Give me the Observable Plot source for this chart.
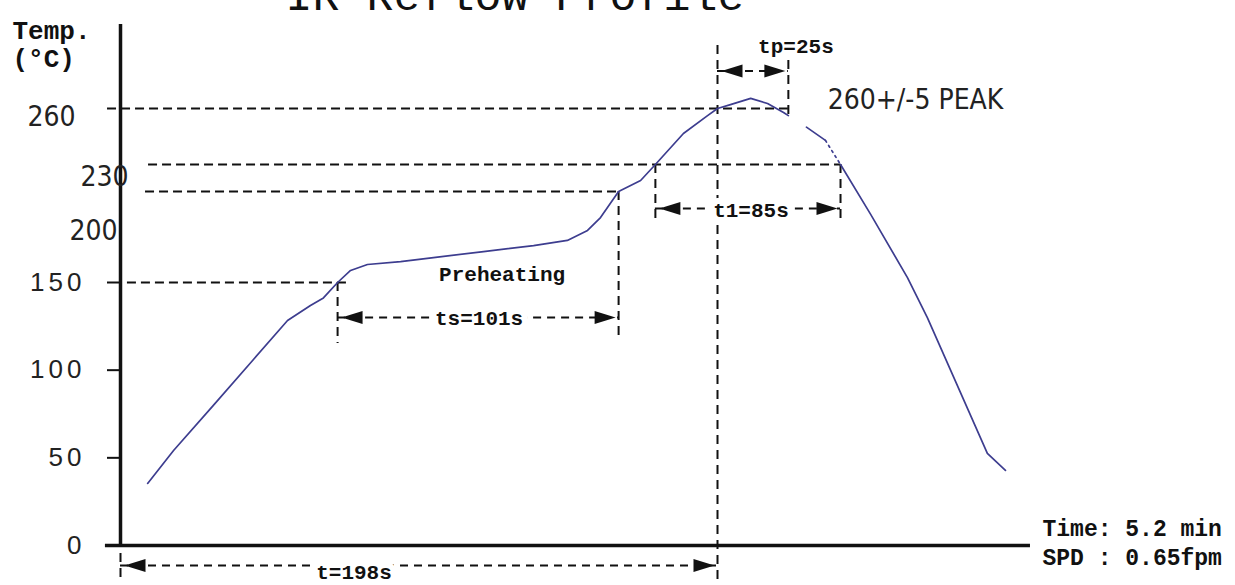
<!DOCTYPE html>
<html><head><meta charset="utf-8">
<script src="https://cdn.jsdelivr.net/npm/d3@7"></script>
<script src="https://cdn.jsdelivr.net/npm/@observablehq/plot@0.6"></script>
<style>
html,body{margin:0;padding:0;background:#fff;overflow:hidden}
g[aria-label="y-axis tick label"] text{letter-spacing:4px}
</style></head><body><div id="chart"></div>
<script>
// Reflow profile curve (time in s, temperature in °C)
const curveTime = [9.0, 17.6, 30.8, 44.1, 55.4, 63.0, 67.3, 72.0, 76.3, 81.9, 92.9, 103.8, 120.4, 137.0, 148.2, 154.9, 159.2, 165.2, 172.5, 177.4, 186.7, 194.7, 198.0, 202.3, 209.0, 214.6, 219.9, 221.5,
                   227.5, 233.8,
                   233.8, 238.8,
                   238.8, 248.8, 261.0, 267.6, 287.5, 293.5];
const curveTemp = [35.4, 54.2, 79.9, 106.1, 128.3, 136.9, 141.2, 150.0, 156.6, 159.9, 161.5, 163.7, 167.0, 170.3, 173.1, 178.6, 185.7, 200.0, 212.2, 230.0, 246.6, 256.2, 260.0, 262.1, 265.4, 262.7, 257.9, 256.2,
                   250.0, 242.9,
                   242.9, 230.0,
                   230.0, 187.4, 152.7, 130.0, 52.5, 42.8];
const curvePart = ["a","a","a","a","a","a","a","a","a","a","a","a","a","a","a","a","a","a","a","a","a","a","a","a","a","a","a","a",
                   "b","b",
                   "c","c",
                   "d","d","d","d","d","d"];

// y axis
const yTicks = [0, 50, 100, 150];
const yKnots = [0, 150, 200, 230, 260];
const yAxisSpan = [0, 305];
const xAxisSpan = [-5, 301.8];

// horizontal reference levels
const refTemp = [260, 230, 200, 150];
const refFrom = [-4.3, 9.3, 8.3, 2.3];
const refTo = [221.5, 238.8, 165.2, 75.3];

// vertical markers
const markTime = [0, 72.0, 165.2, 177.4, 198.0, 221.5, 238.8];
const markFrom = [-4.6, 150, 200, 230, 293.7, 285.7, 230];
const markTo = [-20, 115.2, 116.9, 184, -22.8, 256.2, 184];

// time spans
const spanName = ["t=198s", "ts=101s", "t1=85s", "tp=25s"];
const spanStart = [0, 72.0, 177.4, 198.0];
const spanEnd = [198.0, 165.2, 238.8, 221.5];
const spanLevel = [-11.4, 130, 190.7, 280.1];

const curve = curveTime.map((t, i) => ({t, T: curveTemp[i], part: curvePart[i]}));
const refs = refTemp.map((T, i) => ({T, x1: refFrom[i], x2: refTo[i]}));
const marks = markTime.map((t, i) => ({t, y1: markFrom[i], y2: markTo[i]}));
const spans = spanName.map((name, i) => ({name, start: spanStart[i], end: spanEnd[i], level: spanLevel[i], mid: (spanStart[i] + spanEnd[i]) / 2}));
const peakIdx = d3.maxIndex(curveTemp);

const arrowHead = {draw(ctx) { ctx.moveTo(0, 0); ctx.lineTo(-21, -6.5); ctx.lineTo(-21, 6.5); ctx.closePath(); }};

const MONO = '"Liberation Mono", "Courier New", monospace';
const NARROW = '"Liberation Sans Narrow", "DejaVu Sans Condensed", sans-serif';
const SANS = '"Liberation Sans", Arial, sans-serif';
const INK = "#111";

const spanLabel = (i, dx, dy, halo) => Plot.text([spans[i]], {
  x: "mid", y: "level", text: "name", dx, dy, fontFamily: MONO, fontWeight: "bold", fontSize: 21,
  fill: INK, stroke: halo ? "white" : null, strokeWidth: halo ? 12 : null
});

const plot = Plot.plot({
  width: 1235, height: 585,
  marginLeft: 120, marginRight: 0, marginTop: 0, marginBottom: 0,
  style: {background: "white", fontFamily: SANS, color: INK},
  x: {domain: [0, 198], range: [120, 717], axis: null},
  y: {type: "linear", domain: yKnots, range: [545, 282, 191, 164, 108]},
  marks: [
    // title (partly cut at top)
    Plot.text(["IR Reflow Profile"], {frameAnchor: "top-left", dx: 165, dy: 9, textAnchor: "start", lineAnchor: "bottom", fontFamily: MONO, fontSize: 45, fill: INK}),
    Plot.text(["Temp."], {frameAnchor: "top-left", dx: -108, dy: 20, textAnchor: "start", fontFamily: MONO, fontWeight: "bold", fontSize: 26, fill: INK}),
    Plot.text(["(°C)"], {frameAnchor: "top-left", dx: -108, dy: 48, textAnchor: "start", fontFamily: MONO, fontWeight: "bold", fontSize: 26, fill: INK}),
    // reference dashed lines
    Plot.ruleY(refs, {y: "T", x1: "x1", x2: "x2", stroke: INK, strokeWidth: 2, strokeDasharray: "9,5"}),
    Plot.ruleX(marks, {x: "t", y1: "y1", y2: "y2", stroke: INK, strokeWidth: 2, strokeDasharray: "9,6"}),
    // span arrows
    Plot.ruleY(spans, {y: "level", x1: "start", x2: "end", stroke: INK, strokeWidth: 2, strokeDasharray: "8,6"}),
    Plot.dot(spans, {x: "end", y: "level", symbol: arrowHead, fill: INK, stroke: null, dx: -3}),
    Plot.dot(spans, {x: "start", y: "level", symbol: arrowHead, fill: INK, stroke: null, rotate: 180, dx: 4}),
    spanLabel(0, -65, 7, true),
    spanLabel(1, 1, 1, true),
    spanLabel(2, 3, 2, true),
    spanLabel(3, 43, -25, false),
    // axes
    Plot.ruleX([0], {y1: yAxisSpan[0], y2: yAxisSpan[1], stroke: INK, strokeWidth: 3.5}),
    Plot.ruleY([0], {x1: xAxisSpan[0], x2: xAxisSpan[1], stroke: INK, strokeWidth: 3.5}),
    Plot.axisY({ticks: yTicks, tickSize: 13, tickPadding: 22, fontSize: 26, label: null, strokeWidth: 2, fill: "#222"}),
    Plot.text([200], {x: 0, y: d => d, text: d => String(d), textAnchor: "end", dx: -3, dy: 40, fontFamily: NARROW, fontSize: 28, fill: "#222"}),
    Plot.text([230], {x: 0, y: d => d, text: d => String(d), textAnchor: "end", dx: 8, dy: 13, fontFamily: NARROW, fontSize: 28, fill: "#222"}),
    Plot.text([260], {x: 0, y: d => d, text: d => String(d), textAnchor: "end", dx: -45, dy: 9, fontFamily: NARROW, fontSize: 28, fill: "#222"}),
    // curve
    Plot.line(curve.filter(d => d.part !== "c"), {x: "t", y: "T", z: "part", stroke: "#3d3d8f", strokeWidth: 1.7}),
    Plot.line(curve.filter(d => d.part === "c"), {x: "t", y: "T", stroke: "#3d3d8f", strokeWidth: 1.7, strokeDasharray: "2,4"}),
    // annotations
    Plot.text([curve[peakIdx]], {x: "t", y: "T", text: () => "260+/-5 PEAK", textAnchor: "start", dx: 77, dy: 2, fontFamily: NARROW, fontSize: 28, fill: "#222"}),
    Plot.text([spans[1]], {x: "mid", y: 150, text: () => "Preheating", dx: 24, dy: -8, fontFamily: MONO, fontWeight: "bold", fontSize: 21, fill: INK}),
    Plot.text(["Time: 5.2 min"], {x: xAxisSpan[1], y: 0, textAnchor: "start", dx: 12, dy: -17, fontFamily: MONO, fontWeight: "bold", fontSize: 23, fill: INK}),
    Plot.text(["SPD : 0.65fpm"], {x: xAxisSpan[1], y: 0, textAnchor: "start", dx: 12, dy: 12, fontFamily: MONO, fontWeight: "bold", fontSize: 23, fill: INK})
  ]
});
document.getElementById("chart").appendChild(plot);
</script>
</body></html>
